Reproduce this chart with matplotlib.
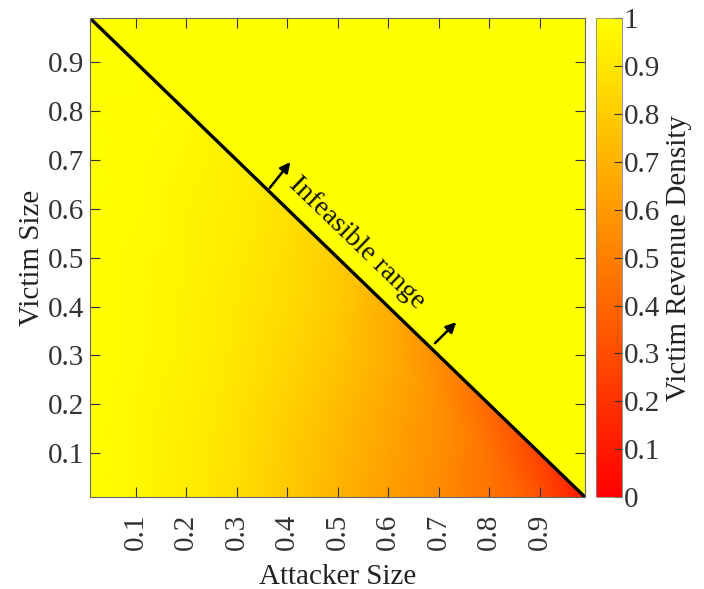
import numpy as np
import matplotlib
matplotlib.use("Agg")
import matplotlib.pyplot as plt
import matplotlib.tri as mtri

plt.rcParams['font.family'] = ['Liberation Serif', 'DejaVu Serif']

# grid nodes (attacker size / victim size), feasible where x + y <= 1
sizes = [0.0, 0.1, 0.2, 0.3, 0.4, 0.5, 0.6, 0.7, 0.8, 0.9, 1.0]

# victim revenue density, one row per victim size, columns = attacker size
density_rows = [
    [1.00, 0.97, 0.93, 0.87, 0.79, 0.70, 0.62, 0.55, 0.46, 0.33, 0.08],
    [1.00, 0.97, 0.93, 0.88, 0.80, 0.72, 0.64, 0.56, 0.45, 0.26],
    [1.00, 0.97, 0.94, 0.89, 0.82, 0.74, 0.66, 0.57, 0.41],
    [1.00, 0.98, 0.95, 0.90, 0.84, 0.77, 0.68, 0.55],
    [1.00, 0.98, 0.95, 0.91, 0.86, 0.79, 0.68],
    [1.00, 0.98, 0.96, 0.92, 0.87, 0.80],
    [1.00, 0.99, 0.96, 0.93, 0.88],
    [1.00, 0.99, 0.97, 0.94],
    [1.00, 0.99, 0.98],
    [1.00, 1.00],
    [1.00],
]

cbar_ticks = [0, 0.1, 0.2, 0.3, 0.4, 0.5, 0.6, 0.7, 0.8, 0.9, 1]
cbar_labels = ["0", "0.1", "0.2", "0.3", "0.4", "0.5", "0.6", "0.7", "0.8", "0.9", "1"]
axis_ticks = [0.1, 0.2, 0.3, 0.4, 0.5, 0.6, 0.7, 0.8, 0.9]

px, py, pv = [], [], []
for j, row in enumerate(density_rows):
    for i, v in enumerate(row):
        px.append(sizes[i])
        py.append(sizes[j])
        pv.append(v)
tri = mtri.Triangulation(px, py)

cmap = plt.get_cmap("autumn")
fs = 21

fig = plt.figure(figsize=(7.04, 5.89), dpi=100)
ax = fig.add_axes([0.128, 0.156, 0.703, 0.813])
cax = fig.add_axes([0.847, 0.156, 0.037, 0.813])

# infeasible area (above the line) stays at full density
ax.set_facecolor(cmap(1.0))
tpc = ax.tripcolor(tri, pv, shading="gouraud", cmap=cmap, vmin=0, vmax=1)
ax.plot([0, 1], [1, 0], color="black", lw=2.4)

arrow = dict(arrowstyle="-|>", color="black", lw=1.8, mutation_scale=15)
ax.annotate("", xy=(0.41, 0.70), xytext=(0.362, 0.638), arrowprops=arrow)
ax.annotate("", xy=(0.739, 0.372), xytext=(0.689, 0.321), arrowprops=arrow)
ax.text(0.538, 0.53, "Infeasible range", rotation=-44, fontsize=fs - 1,
        ha="center", va="center", rotation_mode="anchor", color="#111111")

ax.set_xlim(0.01, 0.99)
ax.set_ylim(0.01, 0.99)
ax.set_xticks(axis_ticks)
ax.set_yticks(axis_ticks)
ax.set_xticklabels([f"{t:.1f}" for t in axis_ticks], rotation=90)
ax.tick_params(direction="in", length=7, width=0.8, labelsize=fs, pad=4,
               top=True, right=True, colors="#333333", labelcolor="#333333")
ax.tick_params(axis="x", pad=12)
for s in ax.spines.values():
    s.set_color("#666666")
    s.set_linewidth(0.8)
ax.set_xlabel("Attacker Size", fontsize=fs, color="#222222", labelpad=10)
ax.set_ylabel("Victim Size", fontsize=fs, color="#222222", labelpad=2)

cb = fig.colorbar(tpc, cax=cax)
cb.set_ticks(cbar_ticks)
cb.set_ticklabels(cbar_labels)
cb.outline.set_edgecolor("#888888")
cb.outline.set_linewidth(0.6)
cax.tick_params(direction="in", length=6, width=0.8, labelsize=fs,
                colors="#333333", labelcolor="#333333", pad=1)
cb.set_label("Victim Revenue Density", fontsize=fs, color="#222222", labelpad=4)

fig.savefig("out.png", dpi=100)
